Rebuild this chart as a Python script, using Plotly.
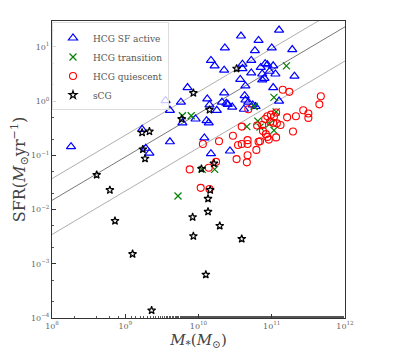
import numpy as np
import plotly.graph_objects as go

# log10 values
sf_logm = [8.26, 10.58, 11.10, 10.82, 10.36, 10.77, 11.00, 11.28, 10.17, 10.22,
           10.35, 10.60, 10.60, 10.72, 10.72, 10.91, 10.94, 11.02, 10.85, 10.97,
           10.87, 10.90, 10.87, 10.57, 11.31, 10.64, 11.02, 9.85, 10.35, 10.12,
           10.63, 10.64, 9.55, 9.76, 10.32, 10.40, 10.46, 10.15, 10.68, 10.78,
           11.10, 9.61, 10.25, 10.62, 9.96, 10.11, 10.14, 9.78, 9.23, 9.61,
           10.08, 9.28, 9.33, 10.17, 10.43, 10.74, 10.38, 11.05]
sf_logsfr = [-0.84, 1.20, 1.31, 1.12, 0.98, 0.93, 0.98, 0.95, 0.75, 0.65,
             0.57, 0.68, 0.60, 0.75, 0.52, 0.69, 0.67, 0.65, 0.62, 0.55,
             0.50, 0.42, 0.39, 0.40, 0.46, 0.28, 0.25, 0.25, 0.15, 0.04,
             0.10, 0.02, 0.01, -0.02, -0.02, -0.06, -0.11, -0.07, -0.02, -0.10,
             0.00, -0.17, -0.17, -0.15, -0.33, -0.36, -0.40, -0.40, -0.52, -0.75,
             -0.68, -0.87, -0.96, -0.97, -0.92, -0.07, -0.04, 0.50]

tr_logm = [11.20, 11.03, 10.76, 11.06, 10.81, 10.84, 10.66, 11.03, 10.97, 9.78,
           9.90, 10.05, 10.22, 9.72]
tr_logsfr = [0.65, 0.07, -0.10, -0.20, -0.37, -0.48, -0.47, -0.54, -0.42, -0.27,
             -0.27, -1.26, -1.26, -1.75]

q_logm = [11.15, 11.24, 11.67, 11.65, 10.68, 11.43, 11.50, 11.50, 11.33, 11.21,
          11.06, 10.99, 10.94, 10.91, 10.98, 11.02, 11.07, 11.12, 10.59, 10.80,
          10.87, 11.29, 10.88, 10.92, 11.06, 10.84, 10.96, 10.94, 10.47, 10.67,
          10.67, 10.59, 10.54, 10.06, 10.28, 9.88, 10.14, 10.24, 10.52, 10.67,
          10.66, 10.79, 10.03, 10.15, 11.03, 10.82]
q_logsfr = [0.21, 0.17, 0.09, -0.06, -0.15, -0.17, -0.23, -0.31, -0.28, -0.30,
            -0.21, -0.25, -0.28, -0.33, -0.38, -0.40, -0.41, -0.44, -0.47, -0.45,
            -0.44, -0.56, -0.55, -0.61, -0.67, -0.74, -0.71, -0.66, -0.64, -0.72,
            -0.79, -0.79, -0.81, -0.79, -0.74, -1.26, -1.23, -1.12, -1.07, -1.00,
            -1.13, -0.90, -1.60, -1.62, -0.29, -0.75]

scg_logm = [10.52, 9.93, 10.15, 9.77, 9.23, 9.33, 9.24, 9.27, 8.61, 8.79,
            8.86, 9.10, 9.36, 10.04, 10.21, 10.16, 10.13, 10.13, 9.92, 9.93,
            10.29, 10.59, 10.10]
scg_logsfr = [0.60, 0.15, -0.16, -0.33, -0.58, -0.56, -0.89, -1.06, -1.36, -1.64,
              -2.21, -2.82, -3.86, -1.25, -1.15, -1.64, -1.80, -2.04, -2.14, -2.49,
              -2.30, -2.54, -3.20]

x_exps = [8, 9, 10, 11, 12]
y_exps = [-4, -3, -2, -1, 0, 1]

# main-sequence relation and its offsets
ms_slope = 0.8
ms_zero = -0.23
ms_up = 0.40
ms_low = -0.63
line_logm = np.array([8.0, 12.0])

def pow_label(e):
    return '10<sup>%s</sup>' % (str(e).replace('-', '−'))

fig = go.Figure()

ms = ms_slope * (line_logm - 10) + ms_zero
for off, col in [(ms_up, '#999999'), (0.0, '#555555'), (ms_low, '#999999')]:
    fig.add_trace(go.Scatter(x=10**line_logm, y=10**(ms + off), mode='lines',
                             line=dict(color=col, width=0.8), showlegend=False,
                             hoverinfo='skip'))

fig.add_trace(go.Scatter(x=10**np.array(sf_logm), y=10**np.array(sf_logsfr), mode='markers',
                         name='HCG SF active',
                         marker=dict(symbol='triangle-up-open', size=8, color='blue',
                                     line=dict(width=1.2, color='blue'))))
fig.add_trace(go.Scatter(x=10**np.array(tr_logm), y=10**np.array(tr_logsfr), mode='markers',
                         name='HCG transition',
                         marker=dict(symbol='x-thin-open', size=7, color='green',
                                     line=dict(width=1.2, color='green'))))
fig.add_trace(go.Scatter(x=10**np.array(q_logm), y=10**np.array(q_logsfr), mode='markers',
                         name='HCG quiescent',
                         marker=dict(symbol='circle-open', size=7, color='red',
                                     line=dict(width=1.1, color='red'))))
fig.add_trace(go.Scatter(x=10**np.array(scg_logm), y=10**np.array(scg_logsfr), mode='markers',
                         name='sCG',
                         marker=dict(symbol='star-open', size=6, color='black',
                                     line=dict(width=1.2, color='black'))))

axis_common = dict(type='log', showgrid=False, zeroline=False, showline=True,
                   linecolor='#333', linewidth=1, mirror=True, ticks='inside',
                   ticklen=4, tickcolor='#333',
                   tickfont=dict(size=8, color='#666'),
                   minor=dict(ticks='inside', ticklen=2, tickcolor='#555', showgrid=False))

fig.update_layout(
    width=413, height=353,
    margin=dict(l=39, r=76, t=13, b=43),
    paper_bgcolor='white', plot_bgcolor='white',
    font=dict(family='DejaVu Serif, Liberation Serif, serif', color='#333'),
    xaxis=dict(axis_common, range=[8, 12],
               tickvals=[10.0**e for e in x_exps], ticktext=[pow_label(e) for e in x_exps],
               title=dict(text='<i>M</i><sub>*</sub>(<i>M</i><sub>⊙</sub>)',
                          font=dict(size=15, color='#444'), standoff=0)),
    yaxis=dict(axis_common, range=[-4, 1.477],
               tickvals=[10.0**e for e in y_exps], ticktext=[pow_label(e) for e in y_exps],
               title=dict(text='SFR(<i>M</i><sub>⊙</sub>yr<sup>−1</sup>)',
                          font=dict(size=16, color='#444'), standoff=0)),
    legend=dict(x=0.0, y=0.995, xanchor='left', yanchor='top',
                bgcolor='rgba(255,255,255,0.8)', bordercolor='#ddd', borderwidth=1,
                font=dict(size=9, color='#555'), itemwidth=30, tracegroupgap=0),
)

fig.write_html("out.html")
